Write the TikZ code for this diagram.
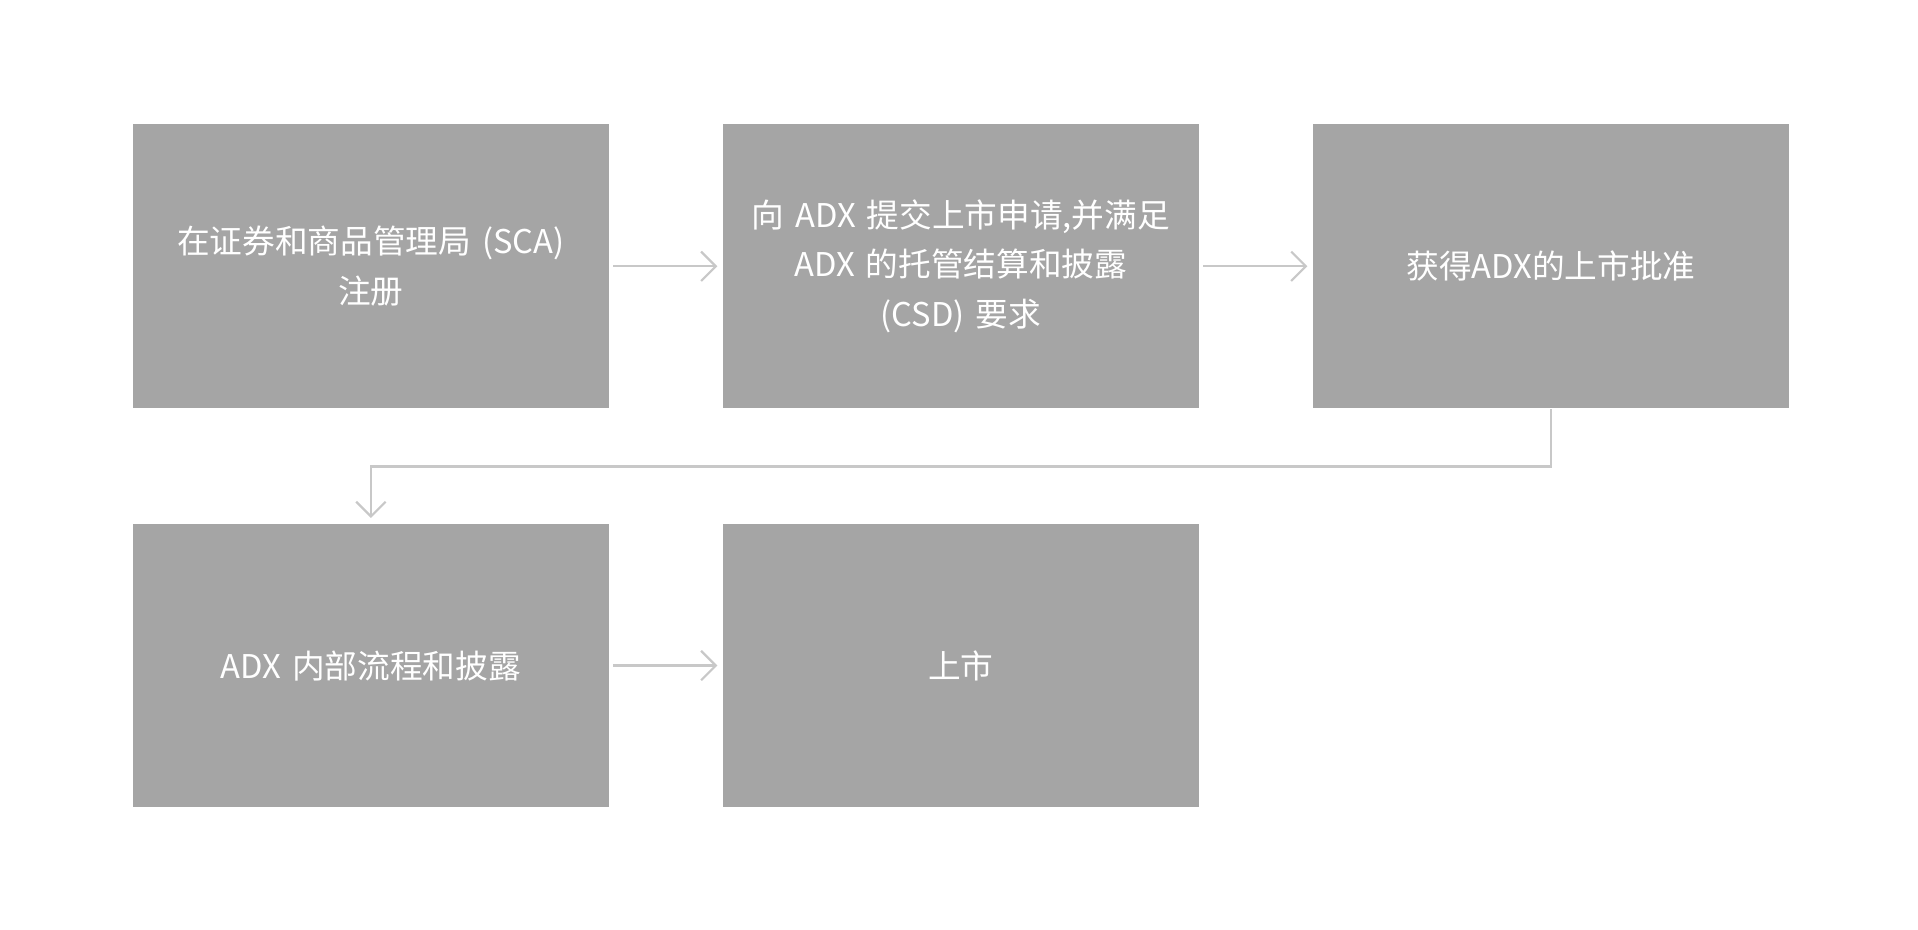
\documentclass[tikz,border=0pt]{standalone}
\usepackage{fontspec}
\newfontfamily\cjk{Noto Sans CJK SC}
\usetikzlibrary{positioning}
\usetikzlibrary{arrows.meta}
\def\bw{3.89cm}
\def\bh{2.32cm}
\tikzset{
    stage/.style = {
        fill={rgb,255:red,165;green,165;blue,165}, text=white, rectangle,
        minimum width=\bw, minimum height=\bh, inner sep=0pt,
        align=center, text width=3.5cm, font=\cjk\fontsize{7.6}{11.5}\selectfont
    },
    link/.style = {
        draw={rgb,255:red,200;green,200;blue,200}, line width=0.5pt,
        -{Straight Barb[length=1.2mm,width=2.4mm]}
    }
}
\begin{document}
\begin{tikzpicture}
        \useasboundingbox (0,0) rectangle (15.68,-7.6);
        % Place the stages
        \node[stage, anchor=north west] (s1) at (1.08,-1.01) {在证券和商品管理局 (SCA)\\注册};
        \node[stage, right=0.92cm of s1] (s2) {向 ADX 提交上市申请,并满足 ADX 的托管结算和披露 (CSD) 要求};
        \node[stage, right=0.92cm of s2] (s3) {获得ADX的上市批准};
        \node[stage, below=0.93cm of s1] (s4) {ADX 内部流程和披露};
        \node[stage, right=0.92cm of s4] (s5) {上市};
        \begin{scope}[shorten <=0.03cm, shorten >=0.04cm]
            \draw[link] (s1.east) -- (s2.west);
            \draw[link] (s2.east) -- (s3.west);
            \draw[link] (s4.east) -- (s5.west);
        \end{scope}
        \draw[link, shorten >=0.04cm] (s3.south) -- ++(0,-0.47) -| (s4.north);
    \end{tikzpicture}
\end{document}
